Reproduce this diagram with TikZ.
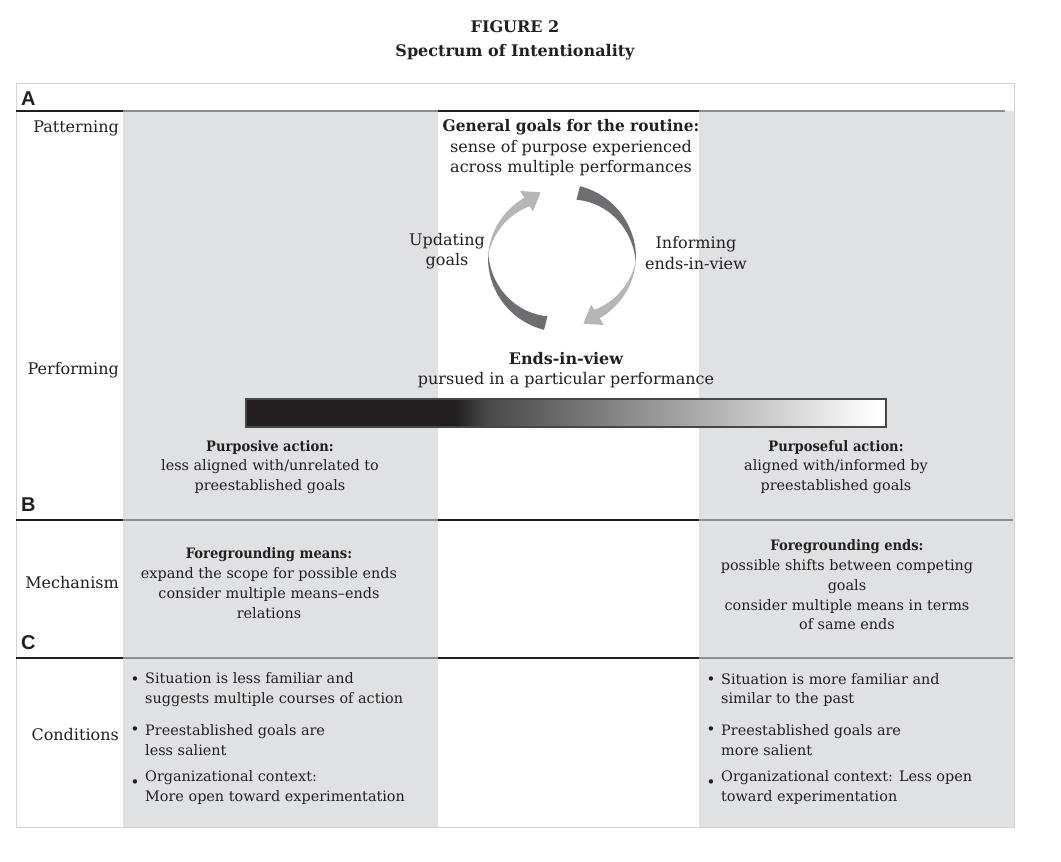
\documentclass[tikz,border=0pt]{standalone}
\usepackage{fontspec}
\setmainfont{DejaVu Serif}
\newfontfamily\labfont{Liberation Sans}
\newfontface\cbold{DejaVu Serif Bold}[FakeStretch=0.91]
\definecolor{txtc}{HTML}{231F20}
\definecolor{colgray}{HTML}{E0E1E3}
\definecolor{linegray}{HTML}{8D8E90}
\definecolor{boxgray}{HTML}{D2D3D5}
\definecolor{darkarr}{HTML}{6D6E71}
\definecolor{lightarr}{HTML}{B5B6B8}
\definecolor{barmid}{HTML}{484848}
\begin{document}
\begin{tikzpicture}[x=1pt,y=-1pt,
  txt/.style={font=\fontsize{16}{20.5}\selectfont, inner sep=0pt, align=center, text=txtc},
  ctxt/.style={font=\fontsize{14.4}{19.8}\selectfont, inner sep=0pt, align=center, text=txtc},
  rowlab/.style={txt, anchor=east},
  itemtxt/.style={ctxt, anchor=west, align=left},
  bul/.style={font=\fontsize{15}{15}\selectfont, inner sep=0pt, text=txtc},
  seclab/.style={font=\labfont\bfseries\fontsize{20}{20}\selectfont, anchor=west, inner sep=0pt, text=txtc},
  ttl/.style={font=\bfseries\fontsize{16}{24}\selectfont, inner sep=0pt, align=center, text=txtc},
  blackrule/.style={txtc, line width=2.6pt},
  grayrule/.style={linegray, line width=2.6pt},
  colfill/.style={fill=colgray},
  darkpart/.style={fill=darkarr},
  lightpart/.style={fill=lightarr}]
\useasboundingbox (0,0) rectangle (1061,862);
\fill[white] (0,0) rectangle (1061,862);

% title
\node[ttl] (title) at (515,40) {FIGURE 2\\Spectrum of Intentionality};

% gray columns
\fill[colfill] (123,111) rectangle (438,827);
\fill[colfill] (699,111) rectangle (1014,827);
% outer frame
\draw[boxgray, line width=0.8pt] (16,83) rectangle (1014,827);

% section rules
\foreach \yy/\xe in {111/1005, 520/1013, 658/1013}{
  \draw[blackrule] (16,\yy) -- (123,\yy);
  \draw[grayrule] (123,\yy) -- (438,\yy);
  \draw[blackrule] (438,\yy) -- (699,\yy);
  \draw[grayrule] (699,\yy) -- (\xe,\yy);
}

% section letters
\node[seclab] (secA) at (21,99) {A};
\node[seclab] (secB) at (21,505) {B};
\node[seclab] (secC) at (21,643) {C};

% row labels
\node[rowlab] (patterning) at (119,128) {Patterning};
\node[rowlab] (performing) at (119,370) {Performing};
\node[rowlab] (mechanism) at (119,583) {Mechanism};
\node[rowlab] (conditions) at (119,735) {Conditions};

% section A texts
\node[txt] (general) at (571,148) {{\bfseries\addfontfeature{FakeStretch=0.96}General goals for the routine:}\\sense of purpose experienced\\across multiple performances};
\node[txt] (updating) at (447,251) {Updating\\goals};
\node[txt] (informing) at (696,253) {Informing\\ends-in-view};
\node[txt] (ends) at (566,370) {{\bfseries Ends-in-view}\\pursued in a particular performance};
\node[ctxt] (purposive) at (270,467) {{\cbold Purposive action:}\\less aligned with/unrelated to\\preestablished goals};
\node[ctxt] (purposeful) at (836,467) {{\cbold Purposeful action:}\\aligned with/informed by\\preestablished goals};

% cycle of arrows
\begin{scope}[shift={(562,258)}, yscale=-1]
\foreach \r in {0,180}{
  \begin{scope}[rotate=\r]
    \fill[darkpart] plot[domain=76:-4,samples=40] (\x:74)
      -- plot[domain=-4:76,samples=40] (\x:{74-14*(\x+4)/80}) -- cycle;
    \fill[lightpart] plot[domain=-2:-58,samples=40] (\x:{74-3*(-2-\x)/56})
      -- (-58:79) -- (-72:69) -- (-58:55)
      -- plot[domain=-58:-2,samples=40] (\x:{74-13*(-2-\x)/56}) -- cycle;
  \end{scope}}
\end{scope}

% gradient bar
\fill[txtc] (246,399) rectangle (457,427);
\shade[left color=txtc, right color=barmid] (456,399) rectangle (486,427);
\shade[left color=barmid, right color=white] (485,399) rectangle (878,427);
\fill[white] (877,399) rectangle (886,427);
\draw[black!72, line width=1.2pt] (246,399) rectangle (886,427);

% section B texts
\node[ctxt] (fgmeans) at (269,583) {{\cbold Foregrounding means:}\\expand the scope for possible ends\\consider multiple means--ends\\relations};
\node[ctxt] (fgends) at (847,585) {{\cbold Foregrounding ends:}\\possible shifts between competing\\goals\\consider multiple means in terms\\of same ends};

% section C texts
\node[bul] (bl1) at (135,681) {\textbullet};
\node[itemtxt] (l1) at (145,690) {Situation is less familiar and\\suggests multiple courses of action};
\node[bul] (bl2) at (135,731) {\textbullet};
\node[itemtxt] (l2) at (145,740.5) {Preestablished goals are\\less salient};
\node[bul] (bl3) at (135,784) {\textbullet};
\node[itemtxt] (l3) at (145,787.5) {Organizational context:\\More open toward experimentation};

\node[bul] (br1) at (711,681) {\textbullet};
\node[itemtxt] (r1) at (721,690) {Situation is more familiar and\\similar to the past};
\node[bul] (br2) at (711,731) {\textbullet};
\node[itemtxt] (r2) at (721,740.5) {Preestablished goals are\\more salient};
\node[bul] (br3) at (711,784) {\textbullet};
\node[itemtxt] (r3) at (721,787.5) {Organizational context: Less open\\toward experimentation};
\end{tikzpicture}
\end{document}
